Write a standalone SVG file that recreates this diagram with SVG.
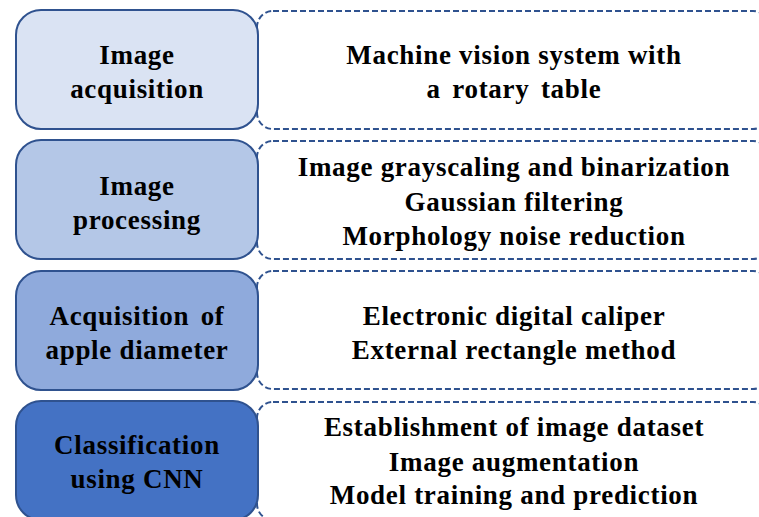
<svg xmlns="http://www.w3.org/2000/svg" width="759" height="517" viewBox="0 0 759 517">
  <style>
    .detail { fill: #ffffff; stroke: #2F528F; stroke-width: 2; stroke-dasharray: 6 3; }
    .stage { stroke: #2F528F; stroke-width: 2; }
    .s1 { fill: #DAE3F3; }
    .s2 { fill: #B4C7E7; }
    .s3 { fill: #8FAADC; }
    .s4 { fill: #4472C4; }
    .t { font-family: 'Liberation Serif', serif; font-weight: bold; font-size: 27px; letter-spacing: 0.7px; fill: #000000; text-anchor: middle; }
  </style>
  <rect width="759" height="517" fill="#ffffff"/>
  <g id="connectors"></g>

  <!-- Row 1 -->
  <g id="detail-acquisition">
    <rect class="detail" x="257" y="11" width="512" height="118" rx="16"/>
    <text class="t" x="514" y="64">Machine vision system with</text>
    <text class="t" x="514" y="98" word-spacing="4">a rotary table</text>
  </g>
  <g id="stage-acquisition">
    <rect class="stage s1" x="16" y="10" width="242" height="119" rx="25"/>
    <text class="t" x="137" y="64">Image</text>
    <text class="t" x="137" y="98">acquisition</text>
  </g>

  <!-- Row 2 -->
  <g id="detail-processing">
    <rect class="detail" x="257" y="141" width="512" height="118" rx="16"/>
    <text class="t" x="514" y="176">Image grayscaling and binarization</text>
    <text class="t" x="514" y="211">Gaussian filtering</text>
    <text class="t" x="514" y="245">Morphology noise reduction</text>
  </g>
  <g id="stage-processing">
    <rect class="stage s2" x="16" y="140" width="242" height="119" rx="25"/>
    <text class="t" x="137" y="195">Image</text>
    <text class="t" x="137" y="229">processing</text>
  </g>

  <!-- Row 3 -->
  <g id="detail-diameter">
    <rect class="detail" x="257" y="271" width="512" height="118" rx="16"/>
    <text class="t" x="514" y="325">Electronic digital caliper</text>
    <text class="t" x="514" y="359">External rectangle method</text>
  </g>
  <g id="stage-diameter">
    <rect class="stage s3" x="16" y="271" width="242" height="119" rx="25"/>
    <text class="t" x="137" y="325" word-spacing="4">Acquisition of</text>
    <text class="t" x="137" y="359">apple diameter</text>
  </g>

  <!-- Row 4 -->
  <g id="detail-classification">
    <rect class="detail" x="257" y="402" width="512" height="118" rx="16"/>
    <text class="t" x="514" y="436">Establishment of image dataset</text>
    <text class="t" x="514" y="471">Image augmentation</text>
    <text class="t" x="514" y="504">Model training and prediction</text>
  </g>
  <g id="stage-classification">
    <rect class="stage s4" x="16" y="401" width="242" height="119" rx="25"/>
    <text class="t" x="137" y="454">Classification</text>
    <text class="t" x="137" y="488">using CNN</text>
  </g>
</svg>
